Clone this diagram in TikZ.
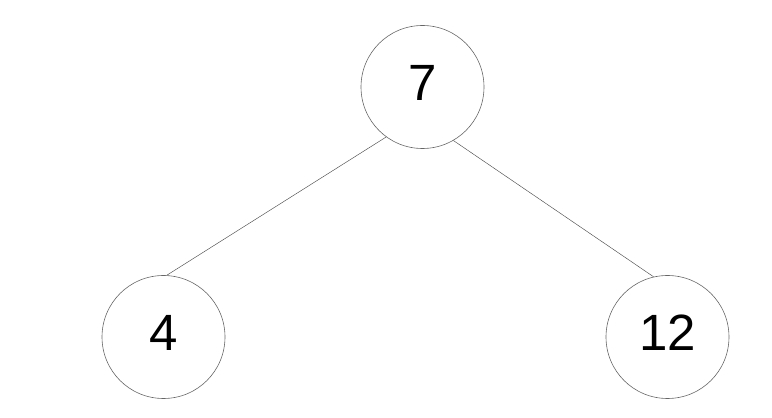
\documentclass[tikz,border=0pt]{standalone}
\usepackage{fontspec}
\setmainfont{Liberation Sans}
\usepackage{tikz}
\usetikzlibrary{positioning}

\begin{document}
\begin{tikzpicture}[x=1pt,y=1pt,
  keynode/.style={circle,draw=black!60,line width=0.6pt,minimum size=123pt,inner sep=0pt,text depth=8pt,font=\fontsize{51}{60}\selectfont},
  treeedge/.style={draw=black!70,line width=0.45pt}]
\useasboundingbox (0,0) rectangle (772,418);
\node[keynode] (root) at (422.5,331) {7};
\node[keynode] (left) at (163.5,81) {4};
\node[keynode] (right) at (667.5,81) {12};

\draw[treeedge] (root.-126) -- (left.87);
\draw[treeedge] (root.-60) -- (right.103);

\end{tikzpicture}
\end{document}
